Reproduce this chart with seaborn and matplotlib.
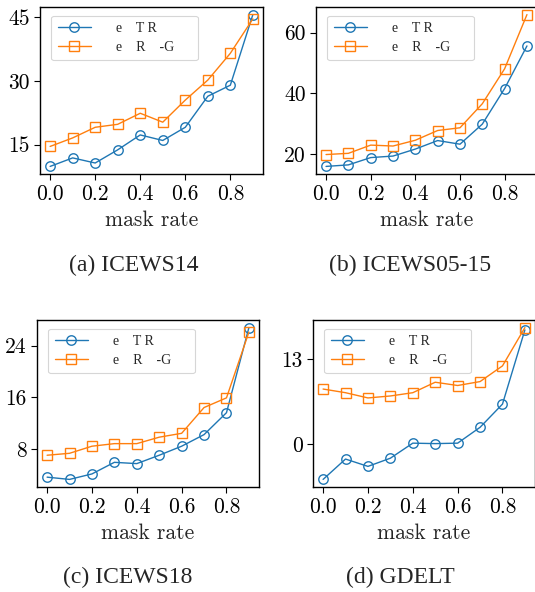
import numpy as np
import pandas as pd
import matplotlib
matplotlib.use("Agg")
import matplotlib.pyplot as plt
import seaborn as sns

rates = [0.0, 0.1, 0.2, 0.3, 0.4, 0.5, 0.6, 0.7, 0.8, 0.9]
series_labels = ["    e    T R       ", "    e    R    -G     "]

icews14_tr = [9.9, 11.9, 10.7, 13.8, 17.3, 16.0, 19.1, 26.4, 29.0, 45.6]
icews14_rg = [14.6, 16.6, 19.1, 19.8, 22.4, 20.3, 25.5, 30.2, 36.5, 44.6]
icews0515_tr = [16.0, 16.5, 18.9, 19.4, 21.7, 24.5, 23.3, 29.9, 41.6, 55.6]
icews0515_rg = [19.9, 20.3, 23.0, 22.7, 24.6, 27.8, 28.7, 36.6, 48.1, 65.9]
icews18_tr = [3.6, 3.25, 4.1, 5.9, 5.7, 7.0, 8.4, 10.2, 13.6, 26.8]
icews18_rg = [7.0, 7.3, 8.4, 8.8, 8.8, 9.8, 10.4, 14.4, 15.9, 26.1]
gdelt_tr = [-5.35, -2.24, -3.36, -2.11, 0.19, 0.12, 0.19, 2.61, 6.16, 17.5]
gdelt_rg = [8.46, 7.9, 7.1, 7.4, 7.9, 9.5, 9.0, 9.6, 12.0, 17.85]

captions = ["(a) ICEWS14", "(b) ICEWS05-15", "(c) ICEWS18", "(d) GDELT"]
yticks = [[15, 30, 45], [20, 40, 60], [8, 16, 24], [0, 13]]
xticks = [0.0, 0.2, 0.4, 0.6, 0.8]
xlabel = "mask rate"

sns.set_style("ticks")
plt.rcParams["font.family"] = ["cmr10"]
plt.rcParams["axes.formatter.use_mathtext"] = True
plt.rcParams["axes.edgecolor"] = "black"
plt.rcParams["xtick.color"] = "black"
plt.rcParams["ytick.color"] = "black"

W, H = 535, 592
fig = plt.figure(figsize=(W / 100, H / 100), dpi=100)

boxes = [(40, 263, 7, 174), (316, 537, 7, 174), (37, 259, 320, 487), (313, 535, 320, 487)]
cap_pos = [(134, 265), (410, 265), (128, 577), (400, 577)]
data = [(icews14_tr, icews14_rg), (icews0515_tr, icews0515_rg),
        (icews18_tr, icews18_rg), (gdelt_tr, gdelt_rg)]

blue = "#1f77b4"
orange = "#ff7f0e"

for i, (l, r, t, b) in enumerate(boxes):
    ax = fig.add_axes([l / W, 1 - b / H, (r - l) / W, (b - t) / H])
    tr, rg = data[i]
    df = pd.DataFrame({"rate": rates, "TR": tr, "RG": rg})
    sns.lineplot(data=df, x="rate", y="TR", ax=ax, color=blue, marker="o",
                 markersize=6.8, markerfacecolor="none", markeredgecolor=blue,
                 markeredgewidth=1.0, linewidth=1.0, label=series_labels[0])
    sns.lineplot(data=df, x="rate", y="RG", ax=ax, color=orange, marker="s",
                 markersize=6.8, markerfacecolor="none", markeredgecolor=orange,
                 markeredgewidth=1.0, linewidth=1.0, label=series_labels[1])
    ax.set_xticks(xticks)
    ax.set_xticklabels([f"{v:.1f}" for v in xticks])
    ax.set_yticks(yticks[i])
    ax.set_yticklabels([str(v) for v in yticks[i]])
    ax.tick_params(labelsize=15.5, length=4, width=0.8)
    ax.set_xlabel(xlabel, fontsize=15.5, labelpad=5)
    ax.set_ylabel("")
    for s in ax.spines.values():
        s.set_linewidth(1.0)
        s.set_color("black")
    leg = ax.legend(loc="upper left", prop={"family": "Liberation Serif", "size": 10},
                    handlelength=2.4, labelspacing=0.45, frameon=True,
                    borderpad=0.45, bbox_to_anchor=(0.02, 0.99))
    leg.get_frame().set_edgecolor("#cccccc")
    leg.get_frame().set_linewidth(0.8)
    cx, cy = cap_pos[i]
    fig.text(cx / W, 1 - cy / H, captions[i], ha="center", va="center",
             fontsize=17, family="Liberation Serif")

fig.savefig("out.png", dpi=100)
